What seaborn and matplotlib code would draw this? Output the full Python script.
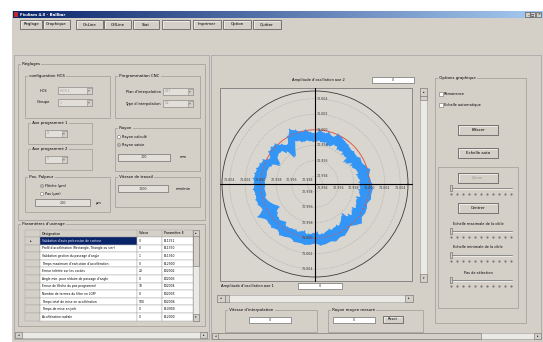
import numpy as np
import matplotlib
matplotlib.use("Agg")
import matplotlib.pyplot as plt
import seaborn as sns
from matplotlib.patches import Rectangle, Circle
from matplotlib.colors import LinearSegmentedColormap
from matplotlib.transforms import ScaledTranslation

# ---- values ----
# ballbar trace: band of the measured radius, deviation from 71 mm in micrometres
angle_deg = list(range(0, 360, 5))
dev_low_um = [-1.3, -1.2, -1.5, -1.3, -1.4, -1.8, -1.5, -2.3, -1.7, -1.8, -1.5, -1.7,
              -1.4, -1.3, -1.8, -1.4, -1.5, -1.3, -1.5, -1.4, -1.2, -1.3, -1.0, -0.8,
              -1.8, -2.6, -1.5, -0.9, -0.8, -1.0, -1.8, -0.9, -0.6, -0.5, -0.6, -0.4,
              -0.5, -0.4, -0.5, -0.3, -0.6, -1.0, -1.5, -0.9, -0.6, -0.5, -0.8, -0.4,
              -0.5, -0.6, -0.5, -0.8, -0.5, -0.6, -0.8, -0.5, -0.6, -0.9, -0.8, -1.0,
              -0.9, -1.3, -1.8, -1.2, -0.9, -1.3, -1.0, -1.2, -1.4, -1.0, -1.3, -1.2]
dev_high_um = [0.3, 0.1, 0.0, 0.3, -0.1, -0.4, -0.3, -0.6, -0.5, -0.6, -0.4, -0.3,
               -0.1, 0.1, -0.5, -0.1, -0.3, 0.0, -0.4, -0.3, 0.1, 0.0, 0.4, 0.8,
               0.1, -0.8, -0.3, 0.3, 0.4, 0.3, -0.3, 0.4, 0.6, 0.8, 0.9, 1.0,
               0.9, 1.0, 0.8, 0.9, 0.8, 0.5, 1.5, 0.8, 0.8, 0.9, 0.6, 1.0,
               0.8, 0.6, 0.9, 0.8, 0.9, 0.8, 0.6, 0.9, 0.8, 0.6, 0.8, 0.5,
               0.6, 0.3, 0.0, 0.4, 0.8, 0.3, 0.4, 0.3, 0.1, 0.4, 0.3, 0.4]
nominal_mm = 71.000
ring_values = [70.994, 70.996, 70.998, 71.000, 71.002, 71.004]
ring_labels = ['70.994', '70.996', '70.998', '71.000', '71.002', '71.004']
r_center, r_outer = 70.993, 71.005

window_title = 'Ficdiam 4.0 - Ballbar'
menu_labels = ['Réglage', 'Graphique', 'OnLine', 'OffLine', 'Stat', '', 'Imprimer', 'Option', 'Quitter']
menu_x = [20, 43, 76, 104, 133, 162, 193, 223, 253]
menu_w = [22, 27, 27, 27, 26, 28, 28, 28, 28]

param_names = ["Validation d'auto précession de contour",
               "Profil d'accélération (Rectangle, Triangle ou sin²)",
               "Validation gestion du passage d'angle",
               "Temps maximum d'exécution d'accélération",
               "Erreur tolérée sur les cordes",
               "Angle min. pour réduire de passage d'angle",
               "Erreur de flèche du pas programmé",
               "Nombre de termes du filtre en LGFF",
               "Temps total de mise en accélération",
               "Temps de mise en jerk",
               "Accélération radiale"]
param_values = ['0', '0', '1', '0', '20', '0', '10', '0', '100', '0', '0']
param_codes = ['E11351', 'E11350', 'E11360', 'E12900', 'E32002', 'E32003',
               'E32004', 'E32005', 'E32006', 'E10900', 'E12000']

sns.set_theme(style='white')
plt.rcParams['font.family'] = ['DejaVu Sans']

BG = '#d4d0c8'
EDGE = '#808080'
BLUE = '#3396f7'

fig = plt.figure(figsize=(5.43, 3.42), dpi=100, facecolor='white')

# background axes in screen pixels (y goes down)
ui = fig.add_axes([0, 0, 1, 1], zorder=0)
ui.axis('off')


def rect(x, y, w, h, fc=BG, ec=EDGE, lw=0.5, ax=None, z=1):
    (ax or ui).add_patch(Rectangle((x, y), w, h, facecolor=fc, edgecolor=ec, linewidth=lw, zorder=z))


def label(x, y, s, size=2.8, ha='left', color='black', ax=None, **kw):
    (ax or ui).text(x, y, s, fontsize=size, ha=ha, va='center', color=color, zorder=6, **kw)


def group(x, y, w, h, title):
    rect(x, y, w, h, fc='none', ec='#9c9a94', lw=0.5)
    if title:
        label(x + 3, y, ' ' + title + ' ', bbox=dict(fc=BG, ec='none', pad=0))


def button(x, y, w, h, s, enabled=True, size=2.8):
    rect(x, y, w, h, fc=BG, ec='#505050', lw=0.5)
    ui.plot([x + 0.6, x + 0.6, x + w - 0.6], [y + h - 0.6, y + 0.6, y + 0.6], color='white', lw=0.4, zorder=2)
    label(x + w / 2, y + h / 2, s, size=size, ha='center', color='black' if enabled else '#9a9a9a')


def textbox(x, y, w, h, s='', fc='white'):
    rect(x, y, w, h, fc=fc, ec='#707070')
    label(x + w / 2, y + h / 2, s, size=2.4, ha='center', color='#333333')


def combo(x, y, w, h, s=''):
    rect(x, y, w, h, fc='#e2dfd9', ec='#8a8a8a')
    rect(x + w - 5, y + 0.5, 4.5, h - 1, fc=BG, ec='#8a8a8a', lw=0.4)
    label(x + w - 2.7, y + h / 2, '▾', size=2.6, ha='center', color='#777777')
    label(x + 2, y + h / 2, s, size=2.3, color='#9a9a9a')


def radio(x, y, s, on=False):
    ui.add_patch(Circle((x, y), 1.6, facecolor='white', edgecolor='#707070', lw=0.4, zorder=3))
    if on:
        ui.add_patch(Circle((x, y), 0.6, facecolor='black', edgecolor='none', zorder=4))
    label(x + 3, y, s, size=2.5)


def checkbox(x, y, s):
    rect(x - 1.6, y - 1.6, 3.2, 3.2, fc='white', ec='#707070', lw=0.4)
    label(x + 3, y, s, size=2.5)


def slider(x0, x1, y):
    ui.plot([x0, x1], [y, y], color='#808080', lw=0.6, zorder=2)
    ui.plot([x0, x1], [y + 0.8, y + 0.8], color='white', lw=0.4, zorder=2)
    rect(x0, y - 3, 2.2, 6, fc=BG, ec='#606060', lw=0.4, z=3)
    for k in range(11):
        ui.plot(x0 + 1 + k * (x1 - x0 - 2) / 10, y + 6, marker='.', ms=0.8, color='#505050', zorder=3)


def hscroll(x, y, w, h, thumb=None):
    rect(x, y, w, h, fc='#ebe9e5', ec='#a0a0a0', lw=0.4)
    rect(x, y, h + 1, h, fc=BG, ec='#707070', lw=0.4)
    rect(x + w - h - 1, y, h + 1, h, fc=BG, ec='#707070', lw=0.4)
    label(x + (h + 1) / 2, y + h / 2, '◂', size=2.2, ha='center')
    label(x + w - (h + 1) / 2, y + h / 2, '▸', size=2.2, ha='center')
    if thumb:
        rect(thumb[0], y, thumb[1], h, fc=BG, ec='#707070', lw=0.4)


def vscroll(x, y, w, h, thumb=None):
    rect(x, y, w, h, fc='#ebe9e5', ec='#a0a0a0', lw=0.4)
    rect(x, y, w, w + 1, fc=BG, ec='#707070', lw=0.4)
    rect(x, y + h - w - 1, w, w + 1, fc=BG, ec='#707070', lw=0.4)
    label(x + w / 2, y + (w + 1) / 2, '▴', size=2.2, ha='center')
    label(x + w / 2, y + h - (w + 1) / 2, '▾', size=2.2, ha='center')
    if thumb:
        rect(x, thumb[0], w, thumb[1], fc=BG, ec='#707070', lw=0.4)


# window and title bar
rect(12, 11, 531, 331, fc=BG, ec='none')
title_cmap = LinearSegmentedColormap.from_list('title', ['#0a246a', '#a6caf0'])
ui.imshow(np.linspace(0, 1, 256)[None, :], cmap=title_cmap, extent=(13, 543, 18, 11), aspect='auto', zorder=2)
rect(14, 12, 4, 5, fc='#c0282d', ec='none', z=3)
label(20, 14.6, window_title, size=2.8, color='white', fontweight='bold')
for bx, s in zip([525, 530, 536], ['_', '□', '×']):
    rect(bx, 12, 5, 5, fc=BG, ec='#404040', lw=0.4, z=3)
    label(bx + 2.5, 14.5, s, size=2.4, ha='center')

# menu buttons
for mx, mw, s in zip(menu_x, menu_w, menu_labels):
    button(mx, 20, mw, 9, s, size=2.8)

# left panel
rect(14, 55, 195, 284, fc='none', ec='#a0a0a0')
group(18, 64, 187, 156, 'Réglages')
group(25, 76, 85, 42, 'configuration HCS')
label(40, 90.5, 'HCS', size=2.6)
combo(58, 87, 34, 7, 'HCS 1')
label(37, 102.5, 'Groupe', size=2.6)
combo(58, 99, 34, 7, '1')
group(115, 76, 85, 42, 'Programmation CNC')
label(161, 91.5, "Plan d'interpolation", size=2.5, ha='right')
combo(163, 88, 30, 7, 'G17')
label(161, 103.5, "Type d'interpolation", size=2.5, ha='right')
combo(163, 100, 30, 7, 'G2')
group(28, 123, 64, 21, 'Axe programmé 1')
combo(45, 130, 22, 7, 'X')
group(28, 149, 64, 21, 'Axe programmé 2')
combo(45, 156, 22, 7, 'Y')
group(115, 128, 85, 43, 'Rayon')
radio(119, 137, 'Rayon calculé')
radio(119, 145, 'Rayon saisie', on=True)
textbox(118, 154, 52, 7, '100', fc='#e2dfd9')
label(180, 157.5, 'mm', size=2.5)
group(25, 177, 85, 35, 'Pos. Palpeur')
radio(42, 186, 'Flèche (µm)', on=True)
radio(42, 194, 'Pas (µm)')
textbox(35, 199, 55, 7, '200', fc='#e2dfd9')
label(96, 203, 'µm', size=2.5)
group(115, 177, 85, 30, 'Vitesse de travail')
textbox(118, 185, 50, 7, '1000', fc='#e2dfd9')
label(176, 188.5, 'mm/min', size=2.5)

# parameter table
group(18, 224, 187, 102, "Paramètres d'usinage")
cols = [25, 40, 137, 162, 193]
row_h = 7.6
rect(25, 230, 168, 7, fc=BG, ec='#a0a0a0', lw=0.3)
for cx, s in zip(cols[1:4], ['Désignation', 'Valeur', 'Paramètre E']):
    rect(cx, 230, 0, 7, fc='none', ec='#a0a0a0', lw=0.3)
    label(cx + 2, 233.5, s, size=2.3)
for i, (name, val, code) in enumerate(zip(param_names, param_values, param_codes)):
    y = 237 + i * row_h
    rect(25, y, 15, row_h, fc=BG, ec='#a0a0a0', lw=0.3)
    rect(40, y, 97, row_h, fc='#0a246a' if i == 0 else 'white', ec='#a0a0a0', lw=0.3)
    rect(137, y, 25, row_h, fc='white', ec='#a0a0a0', lw=0.3)
    rect(162, y, 31, row_h, fc='white', ec='#a0a0a0', lw=0.3)
    label(42, y + row_h / 2, name, size=2.2, color='white' if i == 0 else 'black')
    label(139, y + row_h / 2, val, size=2.2)
    label(164, y + row_h / 2, code, size=2.2)
label(30, 237 + row_h / 2, '▸', size=2.4)
vscroll(193, 230, 6, 91, thumb=(236, 30))
hscroll(15, 332, 192, 6)

# centre panel
rect(211, 55, 330, 284, fc='none', ec='#a0a0a0')
label(318, 80, "Amplitude d'oscillation axe 2", size=2.6, ha='center')
textbox(372, 77, 42, 6, '0')
rect(220, 88, 192, 193, fc='#d9d6d0', ec='#7a7a7a', lw=0.6)
vscroll(420, 88, 7, 194, thumb=(96, 4))
label(247, 286.5, "Amplitude d'oscillation axe 1", size=2.6, ha='center')
textbox(298, 283, 44, 6, '0')
hscroll(217, 295, 196, 7, thumb=(225, 4))
group(225, 310, 92, 22, "Vitesse d'interpolation")
textbox(249, 317, 42, 6, '0')
group(328, 310, 95, 22, 'Rayon moyen mesuré')
textbox(333, 317, 42, 6, '0')
button(383, 316, 20, 7, 'Reset', size=2.5)
hscroll(212, 333, 329, 6, thumb=(218, 263))

# right panel: graphic options
group(435, 78, 91, 245, 'Options graphique')
checkbox(441, 94, 'Rémanence')
checkbox(441, 105, 'Echelle automatique')
button(458, 125, 40, 10, 'Effacer')
button(458, 148, 40, 10, 'Echelle auto')
group(438, 167, 80, 141, '')
button(458, 173, 40, 10, 'Zoom', enabled=False)
slider(450, 512, 188)
button(458, 203, 40, 10, 'Centrer')
label(478, 224, 'Echelle maximale de la cible', size=2.5, ha='center')
slider(450, 512, 231)
label(478, 247, 'Echelle minimale de la cible', size=2.5, ha='center')
slider(450, 512, 255)
label(478, 273, 'Pas de sélection', size=2.5, ha='center')
slider(450, 512, 280)

ui.set_xlim(0, 543)
ui.set_ylim(342, 0)

# polar ballbar plot: centre (315, 184), outer radius 93 px
cx, cy, rad = 315, 184, 93
ax_p = fig.add_axes([(cx - rad) / 543, (342 - cy - rad) / 342, 2 * rad / 543, 2 * rad / 342],
                    projection='polar', zorder=1)
ax_p.set_facecolor('none')
ax_p.set_ylim(r_center, r_outer)
ax_p.set_yticks(ring_values)
ax_p.set_yticklabels([])
ax_p.set_xticks([])
ax_p.yaxis.grid(True, color='#a4a4a4', linestyle=':', linewidth=0.5)
ax_p.spines['polar'].set_color('#3c3c3c')
ax_p.spines['polar'].set_linewidth(0.6)

# red reference circle at the nominal radius
ref_theta = np.radians(np.arange(0, 361, 2))
ax_p.plot(ref_theta, np.full(ref_theta.shape, nominal_mm), color='#e8503a', lw=0.6)

# measured band
theta = np.radians(angle_deg + [360])
r_low = nominal_mm + np.array(dev_low_um + dev_low_um[:1]) / 1000
r_high = nominal_mm + np.array(dev_high_um + dev_high_um[:1]) / 1000
ax_p.fill_between(theta, r_low, r_high, color=BLUE, lw=0)
zig_theta, zig_r = [], []
for a, lo, hi in zip(angle_deg, dev_low_um, dev_high_um):
    zig_theta += [np.radians(a), np.radians(a + 2.5)]
    zig_r += [nominal_mm + hi / 1000, nominal_mm + lo / 1000]
zig_theta.append(zig_theta[0])
zig_r.append(zig_r[0])
sns.lineplot(x=zig_theta, y=zig_r, sort=False, estimator=None, color=BLUE, lw=0.9, ax=ax_p)
ax_p.set_xlabel('')
ax_p.set_ylabel('')

# ring labels along the four half-axes
def shifted(dx, dy):
    return ax_p.transData + ScaledTranslation(dx / 100, dy / 100, fig.dpi_scale_trans)

for v, s in zip(ring_values, ring_labels):
    ax_p.text(np.pi / 2, v, s, transform=shifted(2, 0), ha='left', va='center', fontsize=2.3, color='#333333')
    ax_p.text(3 * np.pi / 2, v, s, transform=shifted(-2, 0), ha='right', va='center', fontsize=2.3, color='#333333')
    ax_p.text(np.pi, v, s, transform=shifted(0, 4), ha='center', va='center', fontsize=2.3, color='#333333')
    ax_p.text(0, v, s, transform=shifted(0, -4), ha='center', va='center', fontsize=2.3, color='#333333')

# crosshair on top of the trace
top = fig.add_axes([0, 0, 1, 1], zorder=2)
top.patch.set_visible(False)
top.axis('off')
top.plot([220, 412], [cy, cy], color='black', lw=0.8)
top.plot([cx, cx], [88, 281], color='black', lw=0.8)
top.set_xlim(0, 543)
top.set_ylim(342, 0)

fig.savefig('out.png', dpi=100)
